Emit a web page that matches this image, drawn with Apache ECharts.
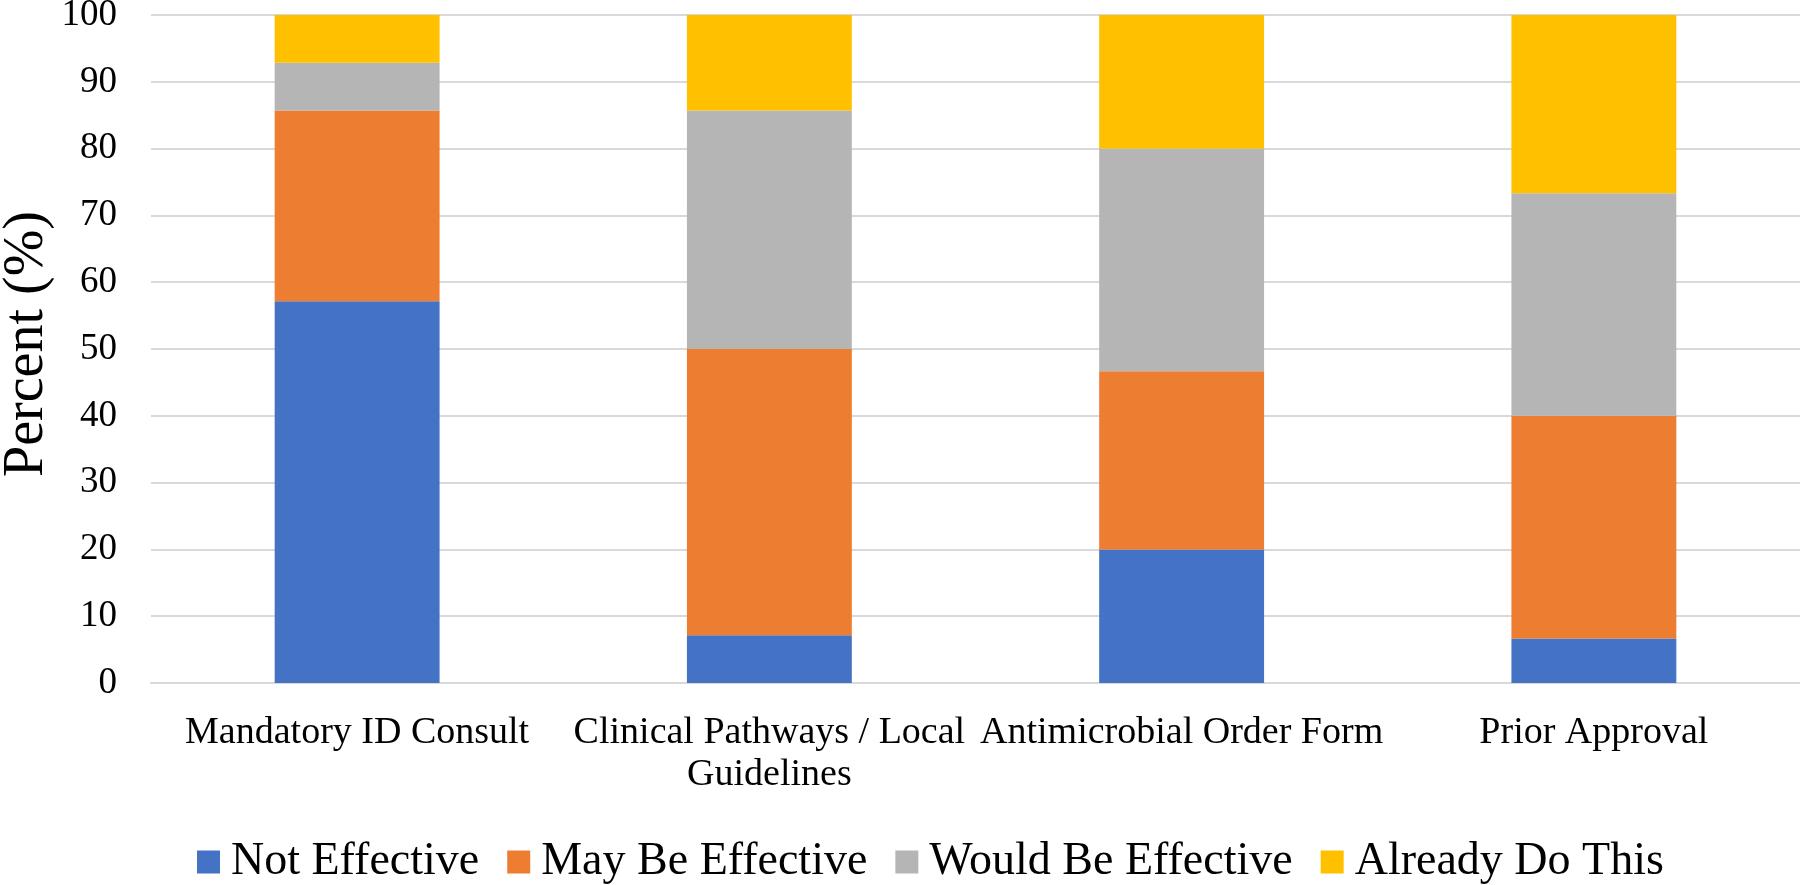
<!DOCTYPE html>
<html><head><meta charset="utf-8">
<script src="https://cdn.jsdelivr.net/npm/echarts@6/dist/echarts.min.js"></script>
<style>html,body{margin:0;padding:0;background:#fff}#c{width:1800px;height:885px}</style>
</head><body><div id="c"></div>
<script>
const categories = ['Mandatory ID Consult', 'Clinical Pathways / Local\nGuidelines', 'Antimicrobial Order Form', 'Prior Approval'];
const notEffective = [57.14, 7.14, 20.00, 6.67];
const mayBeEffective = [28.57, 42.86, 26.67, 33.33];
const wouldBeEffective = [7.14, 35.71, 33.33, 33.33];
const alreadyDoThis = [7.14, 14.29, 20.00, 26.67];
const yTicks = [0, 10, 20, 30, 40, 50, 60, 70, 80, 90, 100];
const yTitle = 'Percent (%)';

const font = 'Liberation Serif, Times New Roman, serif';
const chart = echarts.init(document.getElementById('c'));
const mk = (name, data, color) => ({
  name, type: 'bar', stack: 'total', data, barWidth: '40%',
  itemStyle: { color }, emphasis: { disabled: true }
});
chart.setOption({
  animation: false,
  textStyle: { fontFamily: font, color: '#000' },
  grid: { left: 151, right: 0, top: 15, bottom: 202, containLabel: false, outerBoundsMode: 'none' },
  graphic: [{
    type: 'text', x: 27, y: 344, rotation: Math.PI / 2,
    style: { text: yTitle, font: '56px ' + font, fill: '#000', align: 'center', verticalAlign: 'middle' }
  }],
  legend: {
    top: 834, left: 192, itemWidth: 23, itemHeight: 23, itemGap: 28,
    icon: 'rect',
    textStyle: { fontFamily: font, fontSize: 46, color: '#000', padding: [0, 0, 0, 6] },
    data: ['Not Effective', 'May Be Effective', 'Would Be Effective', 'Already Do This']
  },
  xAxis: {
    type: 'category', data: categories,
    axisLine: { show: true, lineStyle: { color: '#d9d9d9', width: 2 } },
    axisTick: { show: false },
    axisLabel: { fontFamily: font, fontSize: 38, color: '#000', margin: 29, lineHeight: 42, interval: 0 }
  },
  yAxis: {
    type: 'value', min: 0, max: 100, interval: 10,
    axisLine: { show: false }, axisTick: { show: false },
    axisLabel: { fontFamily: font, fontSize: 37, color: '#000', margin: 34,
      formatter: v => yTicks.includes(v) ? String(v) : '' },
    splitLine: { lineStyle: { color: '#d9d9d9', width: 2 } }
  },
  series: [
    mk('Not Effective', notEffective, '#4472C4'),
    mk('May Be Effective', mayBeEffective, '#ED7D31'),
    mk('Would Be Effective', wouldBeEffective, '#B5B5B5'),
    mk('Already Do This', alreadyDoThis, '#FFC000')
  ]
});
</script></body></html>
